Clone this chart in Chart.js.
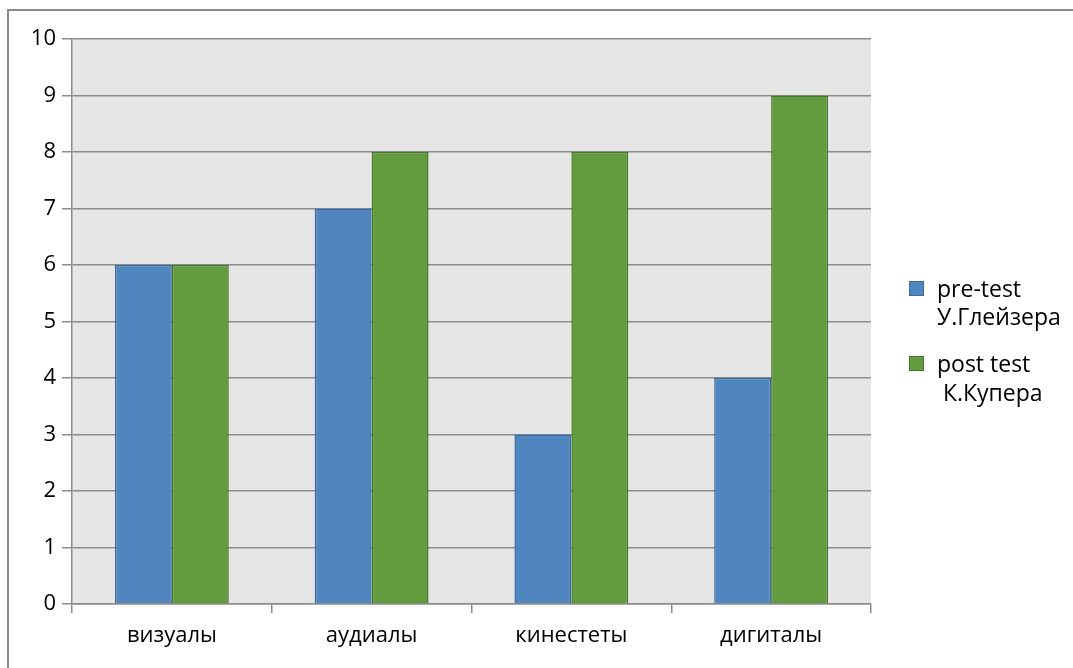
<!DOCTYPE html>
<html><head><meta charset="utf-8">
<script src="https://cdn.jsdelivr.net/npm/chart.js@4"></script>
<style>
html,body{margin:0;padding:0;background:#fff;overflow:hidden}
#wrap{position:absolute;left:0;top:0;width:1073px;height:668px}
</style></head>
<body><div id="wrap"><canvas id="c" width="1073" height="668"></canvas></div>
<script>
const categories = ['визуалы', 'аудиалы', 'кинестеты', 'дигиталы'];
const preTest = [6, 7, 3, 4];
const postTest = [6, 8, 8, 9];
const seriesNames = ['pre-test У.Глейзера', 'post test К.Купера'];
const legendLines = [['pre-test', 'У.Глейзера'], ['post test', ' К.Купера']];
const yTicks = [0,1,2,3,4,5,6,7,8,9,10];

const FONT = "'Open Sans', sans-serif";

const framePlugin = {
  id: 'frame',
  beforeDraw(chart) {
    const ctx = chart.ctx, a = chart.chartArea;
    ctx.save();
    ctx.fillStyle = '#fff';
    ctx.fillRect(0, 0, chart.width, chart.height);
    ctx.strokeStyle = '#8a8a8a';
    ctx.lineWidth = 2;
    ctx.beginPath();
    ctx.moveTo(8, chart.height + 2);
    ctx.lineTo(8, 10);
    ctx.lineTo(chart.width + 2, 10);
    ctx.stroke();
    ctx.fillStyle = '#e6e6e6';
    ctx.fillRect(a.left, a.top, a.right - a.left, a.bottom - a.top);
    ctx.restore();
  }
};

const legendPlugin = {
  id: 'customLegend',
  afterDraw(chart) {
    const ctx = chart.ctx;
    ctx.save();
    ctx.font = '500 23px ' + FONT;
    ctx.textBaseline = 'alphabetic';
    const x0 = 909, tops = [281, 356], baselines = [[297, 325], [372, 401]];
    chart.data.datasets.forEach((ds, i) => {
      const t = tops[i];
      ctx.fillStyle = ds.backgroundColor;
      ctx.fillRect(x0, t, 15, 15);
      ctx.strokeStyle = ds.borderColor;
      ctx.lineWidth = 1;
      ctx.strokeRect(x0 + 0.5, t + 0.5, 14, 14);
      ctx.fillStyle = '#000';
      legendLines[i].forEach((ln, j) => {
        ctx.fillText(ln, 937, baselines[i][j]);
      });
    });
    ctx.restore();
  }
};

new Chart(document.getElementById('c'), {
  type: 'bar',
  data: {
    labels: categories,
    datasets: [
      { label: seriesNames[0], data: preTest, backgroundColor: '#4f86bf', borderColor: '#3b6b9e', borderWidth: 1.5, categoryPercentage: 0.57, barPercentage: 1.0 },
      { label: seriesNames[1], data: postTest, backgroundColor: '#629c3e', borderColor: '#46772b', borderWidth: 1.5, categoryPercentage: 0.57, barPercentage: 1.0 }
    ]
  },
  options: {
    responsive: false,
    animation: false,
    devicePixelRatio: 1,
    layout: { padding: { left: 0, top: 39, right: 202, bottom: 0 } },
    plugins: { legend: { display: false }, tooltip: { enabled: false } },
    scales: {
      x: {
        grid: { drawOnChartArea: false, drawTicks: true, tickLength: 9, color: '#8c8c8c', lineWidth: 1.5, offset: true },
        border: { display: true, color: '#8c8c8c', width: 1.5 },
        ticks: { color: '#000', font: { family: FONT, size: 22, weight: '500' }, padding: 10 },
        afterFit(s) { s.height = 64; }
      },
      y: {
        min: 0, max: 10,
        afterBuildTicks(s) { s.ticks = yTicks.map(v => ({ value: v })); },
        grid: { color: '#8c8c8c', lineWidth: 1.5, tickLength: 10 },
        border: { display: true, color: '#8c8c8c', width: 1.5 },
        ticks: { color: '#000', font: { family: FONT, size: 22, weight: '500' }, padding: 6 },
        afterFit(s) { s.width = 72; }
      }
    }
  },
  plugins: [framePlugin, legendPlugin]
});
</script></body></html>
